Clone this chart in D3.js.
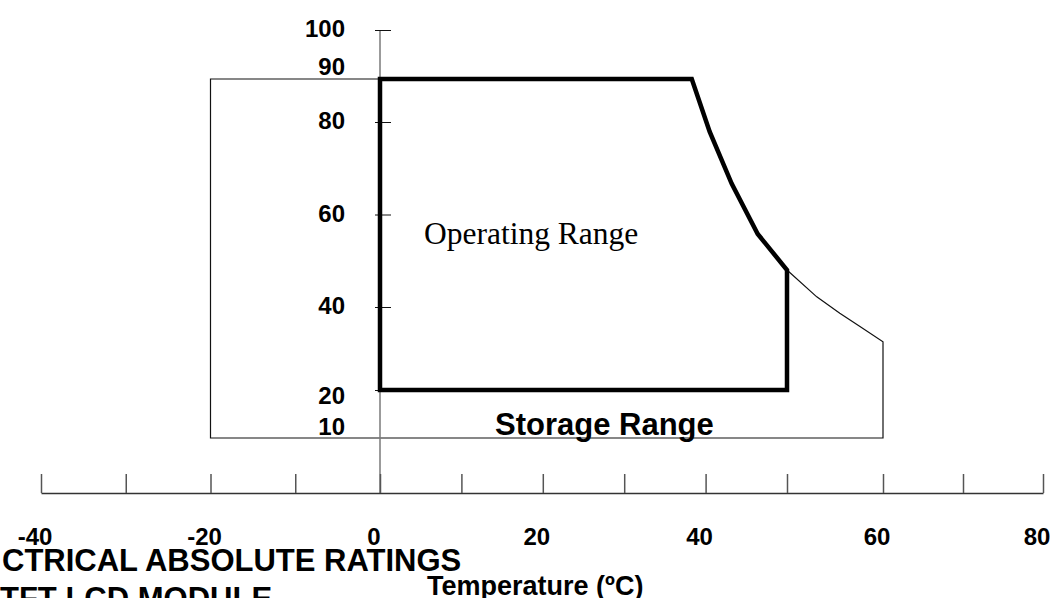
<!DOCTYPE html>
<html>
<head>
<meta charset="utf-8">
<script src="https://cdn.jsdelivr.net/npm/d3@7"></script>
<style>
  html, body { margin: 0; padding: 0; background: #fff; overflow: hidden; }
  svg { display: block; }
</style>
</head>
<body>
<div id="chart"></div>
<script>
// axis values
const xTicks = [-40, -30, -20, -10, 0, 10, 20, 30, 40, 50, 60, 70, 80];
const xLabels = [-40, -20, 0, 20, 40, 60, 80];
const yTicks = [20, 40, 60, 80, 100];
const yLabels = [100, 90, 80, 60, 40, 20, 10];

// operating range outline (temperature degC, humidity %RH)
const operatingTemp = [0, 0, 38.3, 40.5, 43.2, 46.4, 50, 50];
const operatingRH   = [20, 90, 90, 77.9, 66.7, 55.8, 48, 20];

// storage range outline
const storageTemp = [-20, -20, 38.3, 40.5, 43.2, 46.4, 50, 53.1, 55.5, 57.6, 60, 60];
const storageRH   = [10, 90, 90, 77.9, 66.7, 55.8, 48, 42.2, 38.5, 35.3, 31.6, 10];

const width = 1059, height = 598;

let svg = d3.select('#chart').append('svg')
    .attr('width', width)
    .attr('height', height);

// the original drawing is not evenly spaced, so both scales are piecewise
let x = d3.scaleLinear()
    .domain([-40, 0, 50, 60, 80])
    .range([41, 380, 787, 883, 1043]);

let y = d3.scaleLinear()
    .domain([10, 20, 40, 80, 90, 100])
    .range([438, 390, 307, 122, 79, 30]);

let line = d3.line()
    .x(d => x(d[0]))
    .y(d => y(d[1]));

let boldFont = 'Liberation Sans, Arial, sans-serif';

/* STORAGE RANGE (thin) */
let storage = storageTemp.map((t, i) => [t, storageRH[i]]);
svg.append('path')
    .datum(storage)
    .attr('d', d => line(d) + 'Z')
    .attr('fill', 'none')
    .attr('stroke', '#111')
    .attr('stroke-width', 1.2);

/* Y AXIS */
svg.append('line')
    .attr('x1', x(0))
    .attr('x2', x(0))
    .attr('y1', y(100))
    .attr('y2', 493)
    .attr('stroke', '#7a7a7a')
    .attr('stroke-width', 1.5);

let yAxis = svg.append('g')
    .attr('transform', 'translate(' + (x(0) - 5) + ',0)')
    .call(d3.axisRight(y).tickValues(yTicks).tickSize(16).tickFormat(''));
yAxis.select('.domain').remove();
yAxis.selectAll('.tick line').attr('stroke', '#111').attr('stroke-width', 1);

// the labels sit a little off their ticks in the source
let yNudge = {100: -1, 90: -12, 80: -1, 60: -1, 40: -1, 20: 6, 10: -11};
svg.selectAll('.ylab')
    .data(yLabels)
    .enter().append('text')
    .attr('class', 'ylab')
    .attr('x', 345)
    .attr('y', d => y(d) + yNudge[d])
    .attr('dy', '0.35em')
    .attr('text-anchor', 'end')
    .attr('font-family', boldFont)
    .attr('font-weight', 'bold')
    .attr('font-size', 24)
    .attr('fill', '#000')
    .text(d => d);

/* X AXIS */
let xAxis = svg.append('g')
    .attr('transform', 'translate(0,493)')
    .call(d3.axisTop(x).tickValues(xTicks).tickSize(19).tickSizeOuter(0).tickFormat(''));
xAxis.select('.domain').attr('stroke', '#333').attr('stroke-width', 1.5);
xAxis.selectAll('.tick line').attr('stroke', '#555').attr('stroke-width', 1.5);

svg.selectAll('.xlab')
    .data(xLabels)
    .enter().append('text')
    .attr('class', 'xlab')
    .attr('x', d => x(d) - 6)
    .attr('y', 545)
    .attr('text-anchor', 'middle')
    .attr('font-family', boldFont)
    .attr('font-weight', 'bold')
    .attr('font-size', 24)
    .attr('fill', '#000')
    .text(d => d);

/* OPERATING RANGE (thick) */
let operating = operatingTemp.map((t, i) => [t, operatingRH[i]]);
svg.append('path')
    .datum(operating)
    .attr('d', d => line(d) + 'Z')
    .attr('fill', 'none')
    .attr('stroke', '#000')
    .attr('stroke-width', 4.5)
    .attr('stroke-linejoin', 'miter');

/* LABELS */
svg.append('text')
    .attr('x', x(0) + 44)
    .attr('y', y(60) + 29)
    .attr('font-family', 'Liberation Serif, Times New Roman, serif')
    .attr('font-size', 31.5)
    .attr('fill', '#000')
    .text('Operating Range');

svg.append('text')
    .attr('x', x(0) + 115)
    .attr('y', y(10) - 3)
    .attr('font-family', boldFont)
    .attr('font-weight', 'bold')
    .attr('font-size', 31)
    .attr('fill', '#000')
    .text('Storage Range');

svg.append('text')
    .attr('x', 427)
    .attr('y', 595)
    .attr('font-family', boldFont)
    .attr('font-weight', 'bold')
    .attr('font-size', 27)
    .attr('fill', '#000')
    .text('Temperature (ºC)');

// page text cut by the crop of the original
svg.append('text')
    .attr('x', 2)
    .attr('y', 571)
    .attr('font-family', boldFont)
    .attr('font-weight', 'bold')
    .attr('font-size', 31)
    .attr('fill', '#000')
    .text('CTRICAL ABSOLUTE RATINGS');

svg.append('text')
    .attr('x', 0)
    .attr('y', 609)
    .attr('font-family', boldFont)
    .attr('font-weight', 'bold')
    .attr('font-size', 31)
    .attr('fill', '#000')
    .text('TFT LCD MODULE');
</script>
</body>
</html>
